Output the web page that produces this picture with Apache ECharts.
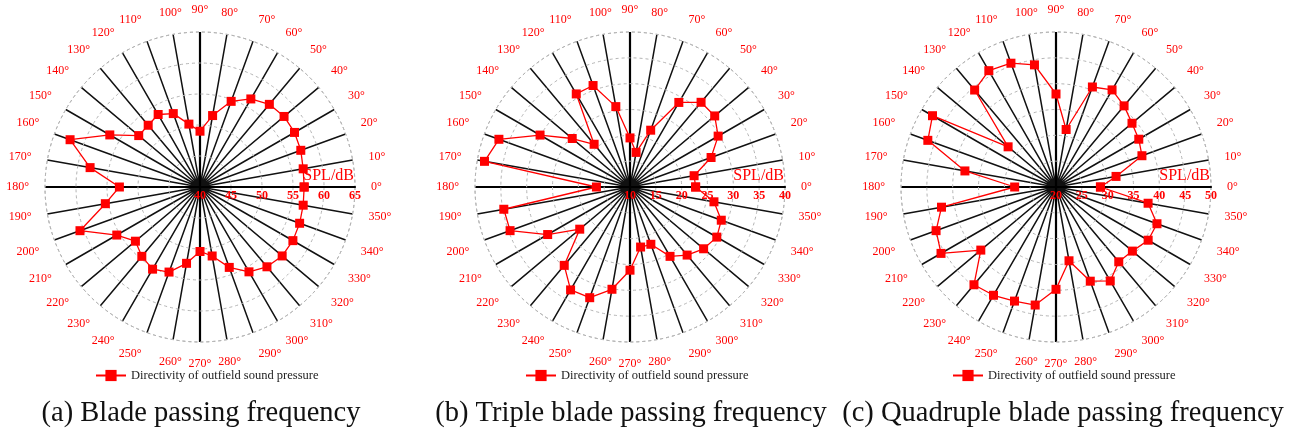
<!DOCTYPE html>
<html>
<head>
<meta charset="utf-8">
<script src="https://cdn.jsdelivr.net/npm/echarts@6/dist/echarts.min.js"></script>
<style>
  html, body { margin: 0; padding: 0; background: #ffffff; }
  #chart { width: 1307px; height: 437px; }
</style>
</head>
<body>
<div id="chart"></div>
<script>
// Measurement angles (degrees, counter-clockwise from the positive x direction)
const angles = [0, 10, 20, 30, 40, 50, 60, 70, 80, 90, 100, 110, 120, 130, 140, 150, 160, 170,
                180, 190, 200, 210, 220, 230, 240, 250, 260, 270, 280, 290, 300, 310, 320, 330, 340, 350];

// Sound pressure level (dB) at each angle
const splBPF = [56.8, 56.9, 57.3, 57.6, 57.7, 57.4, 56.4, 54.7, 51.7, 49.0, 50.3, 52.6, 53.5, 53.0, 52.9, 56.8, 62.3, 58.0,
                53.0, 55.5, 60.6, 55.5, 53.6, 54.6, 55.3, 54.6, 52.5, 50.4, 51.3, 53.8, 55.8, 56.8, 57.3, 57.3, 57.1, 56.9];
const splTriple = [22.7, 22.6, 26.7, 29.7, 31.4, 31.4, 28.9, 21.7, 16.8, 19.5, 25.8, 30.9, 30.8, 20.8, 24.6, 30.1, 37.0, 38.6,
                   16.5, 34.8, 34.7, 28.4, 22.7, 29.8, 33.0, 32.8, 30.1, 26.1, 21.8, 21.8, 25.5, 27.2, 28.6, 29.4, 28.8, 26.5];
const splQuad = [28.6, 31.8, 37.7, 38.5, 39.2, 40.5, 41.7, 40.6, 31.3, 38.0, 44.0, 45.5, 46.0, 44.5, 32.1, 47.6, 46.4, 37.9,
                 28.0, 42.5, 44.7, 45.7, 39.0, 44.7, 44.2, 43.5, 43.2, 39.8, 34.5, 39.4, 41.0, 38.9, 39.3, 40.6, 40.8, 38.1];

// Radial scale of each panel: [min, max, step]
const radialScales = [[40, 65, 5], [10, 40, 5], [20, 50, 5]];

const captions = ['(a) Blade passing frequency',
                  '(b) Triple blade passing frequency',
                  '(c) Quadruple blade passing frequency'];
const seriesName = 'Directivity of outfield sound pressure';
const radiusName = 'SPL/dB';
const panels = [splBPF, splTriple, splQuad];

// Panel layout
const centersX = [200, 630, 1056];
const captionX = [201, 631, 1063];
const centerY = 187;
const R = 155;
const legendLeft = [95, 525, 952];

const RED = '#ff0000';
const SERIF = '"Liberation Serif", "DejaVu Serif", serif';

const polar = [], angleAxis = [], radiusAxis = [], series = [], legend = [], title = [], graphic = [];

panels.forEach(function (vals, i) {
  const [rMin, rMax, rStep] = radialScales[i];
  const pMain = i * 2, pCross = i * 2 + 1;

  // main polar: dashed rings + 10° spokes
  polar.push({ center: [centersX[i], centerY], radius: R });
  // overlay polar used only for the heavier 0/90/180/270 spokes
  polar.push({ center: [centersX[i], centerY], radius: R });

  angleAxis.push({
    polarIndex: pMain, type: 'value', min: 0, max: 360, interval: 10,
    startAngle: 0, clockwise: false,
    axisLine: { show: true, lineStyle: { color: '#b4b4b4', width: 1, type: [3, 3] } },
    axisTick: { show: false },
    axisLabel: {
      show: true, margin: 16, color: RED, fontFamily: SERIF, fontSize: 12,
      formatter: function (v) { return v === 360 ? '' : v + '°'; }
    },
    splitLine: { show: true, lineStyle: { color: '#111111', width: 1.5 } },
    z: 1
  });
  angleAxis.push({
    polarIndex: pCross, type: 'value', min: 0, max: 360, interval: 90,
    startAngle: 0, clockwise: false,
    axisLine: { show: false }, axisTick: { show: false }, axisLabel: { show: false },
    splitLine: { show: true, lineStyle: { color: '#000000', width: 2.2 } },
    z: 1
  });

  radiusAxis.push({
    polarIndex: pMain, type: 'value', min: rMin, max: rMax, interval: rStep,
    axisLine: { show: true, lineStyle: { color: '#000000', width: 2.2 } },
    axisTick: { show: false },
    axisLabel: {
      show: true, margin: -3, verticalAlign: 'top', align: 'center',
      color: RED, fontFamily: SERIF, fontSize: 12, fontWeight: 'bold'
    },
    splitLine: { show: true, lineStyle: { color: '#b4b4b4', width: 1, type: [3, 3] } },
    z: 2
  });
  radiusAxis.push({
    polarIndex: pCross, type: 'value', min: rMin, max: rMax,
    axisLine: { show: false }, axisTick: { show: false }, axisLabel: { show: false },
    splitLine: { show: false }
  });

  // closed directivity curve: repeat the first angle at 360°
  const data = angles.map(function (a, k) { return [vals[k], a]; });
  data.push([vals[0], 360]);

  series.push({
    name: seriesName, type: 'line', coordinateSystem: 'polar', polarIndex: pMain,
    data: data, symbol: 'rect', symbolSize: 9, showSymbol: true,
    lineStyle: { color: RED, width: 1.3 },
    itemStyle: { color: RED },
    z: 5, animation: false
  });

  // radial axis unit, sitting just above the outer end of the 0° axis
  graphic.push({
    type: 'text', x: centersX[i] + R - 1, y: centerY - 3, z: 10,
    style: {
      text: radiusName, fill: RED, font: '16px ' + SERIF,
      align: 'right', verticalAlign: 'bottom'
    }
  });

  legend.push({
    data: [seriesName], left: legendLeft[i], top: 369, padding: 0,
    itemWidth: 30, itemHeight: 14, itemGap: 4,
    textStyle: { color: '#222222', fontFamily: SERIF, fontSize: 12.5 },
    selectedMode: false
  });

  title.push({
    text: captions[i], left: captionX[i], top: 399, textAlign: 'center', padding: 0,
    textStyle: { color: '#111111', fontFamily: SERIF, fontSize: 28.5, fontWeight: 'normal' }
  });
});

const chart = echarts.init(document.getElementById('chart'), null, { renderer: 'canvas' });
chart.setOption({
  backgroundColor: '#ffffff',
  animation: false,
  title: title,
  legend: legend,
  polar: polar,
  angleAxis: angleAxis,
  radiusAxis: radiusAxis,
  graphic: graphic,
  series: series
});
</script>
</body>
</html>
